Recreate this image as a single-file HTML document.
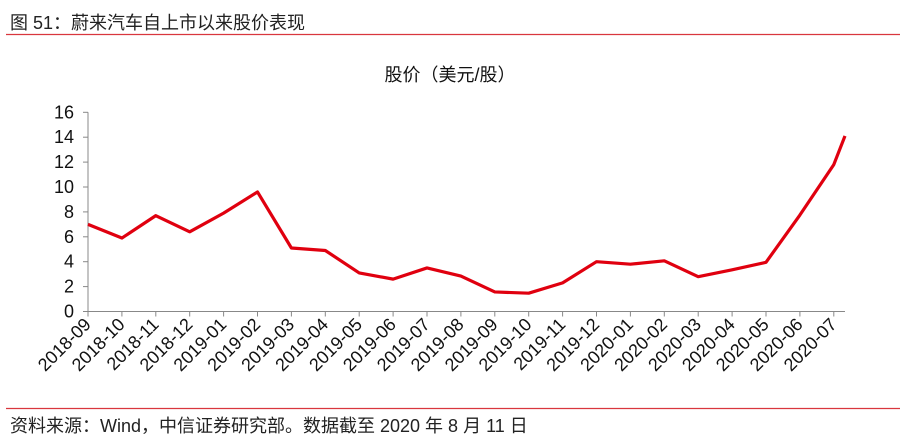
<!DOCTYPE html>
<html><head><meta charset="utf-8"><style>
body{margin:0;width:900px;height:442px;background:#fff;overflow:hidden;font-family:"Liberation Sans","Noto Sans CJK SC",sans-serif;}
</style></head><body>
<svg width="900" height="442" xmlns="http://www.w3.org/2000/svg" font-family="Liberation Sans, Noto Sans CJK SC, sans-serif">
<text x="10" y="29" font-size="18" fill="#222">图 51：蔚来汽车自上市以来股价表现</text>
<line x1="6" y1="34.5" x2="900" y2="34.5" stroke="#d9363e" stroke-width="1.2"/>
<text x="450" y="81" font-size="18" text-anchor="middle" fill="#111">股价（美元/股）</text>
<g id="axes"></g>
<path id="line" fill="none" stroke="#e0000f" stroke-width="3.2" stroke-linejoin="round"/>
<line x1="6" y1="408.5" x2="900" y2="408.5" stroke="#d9363e" stroke-width="1.2"/>
<text x="10" y="432" font-size="18" fill="#222">资料来源：Wind，中信证券研究部。数据截至 2020 年 8 月 11 日</text>
</svg>
<script>
const categories=["2018-09","2018-10","2018-11","2018-12","2019-01","2019-02","2019-03","2019-04","2019-05","2019-06","2019-07","2019-08","2019-09","2019-10","2019-11","2019-12","2020-01","2020-02","2020-03","2020-04","2020-05","2020-06","2020-07"];
const prices=[7.0,5.9,7.7,6.4,7.9,9.6,5.1,4.9,3.1,2.6,3.5,2.85,1.57,1.47,2.3,4.0,3.8,4.07,2.8,3.35,3.95,7.75,11.8,14.1];
const yTicks=[0,2,4,6,8,10,12,14,16];
const NS="http://www.w3.org/2000/svg";
const x0=88,step=33.9,y0=311.5,yScale=12.45;
const xPos=i=>x0+i*step;
const yPos=v=>y0-v*yScale;
const g=document.getElementById('axes');
function mk(t,a){const e=document.createElementNS(NS,t);for(const k in a)e.setAttribute(k,a[k]);return e;}
const ya=mk('line',{x1:x0,y1:yPos(16),x2:x0,y2:y0,stroke:'#888','stroke-width':1});


g.appendChild(ya);
const lastX=xPos(prices.length-1-0.67);
const xa=mk('line',{x1:x0,y1:y0,x2:lastX,y2:y0,stroke:'#888','stroke-width':1});


g.appendChild(xa);
yTicks.forEach(v=>{
 const t=mk('line',{x1:x0-5,y1:yPos(v),x2:x0,y2:yPos(v),stroke:'#888'});
 
 
 g.appendChild(t);
 const l=mk('text',{x:x0-14,y:yPos(v)+6,'font-size':18,'text-anchor':'end',fill:'#111'});
 l.textContent=v;
 
 
 g.appendChild(l);
});
categories.forEach((c,i)=>{
 const x=xPos(i);
 const t=mk('line',{x1:x,y1:y0,x2:x,y2:y0+5,stroke:'#888'});
 
 
 g.appendChild(t);
 const l=mk('text',{x:x+4,y:y0+14,'font-size':18,'text-anchor':'end',fill:'#111',transform:`rotate(-45 ${x+4} ${y0+14})`});
 l.textContent=c;
 
 
 g.appendChild(l);
});
const pts=prices.map((v,i)=>{const x=i<categories.length?xPos(i):lastX;return x+','+yPos(v);});
document.getElementById('line').setAttribute('d','M'+pts.join('L'));
</script>
</body></html>
